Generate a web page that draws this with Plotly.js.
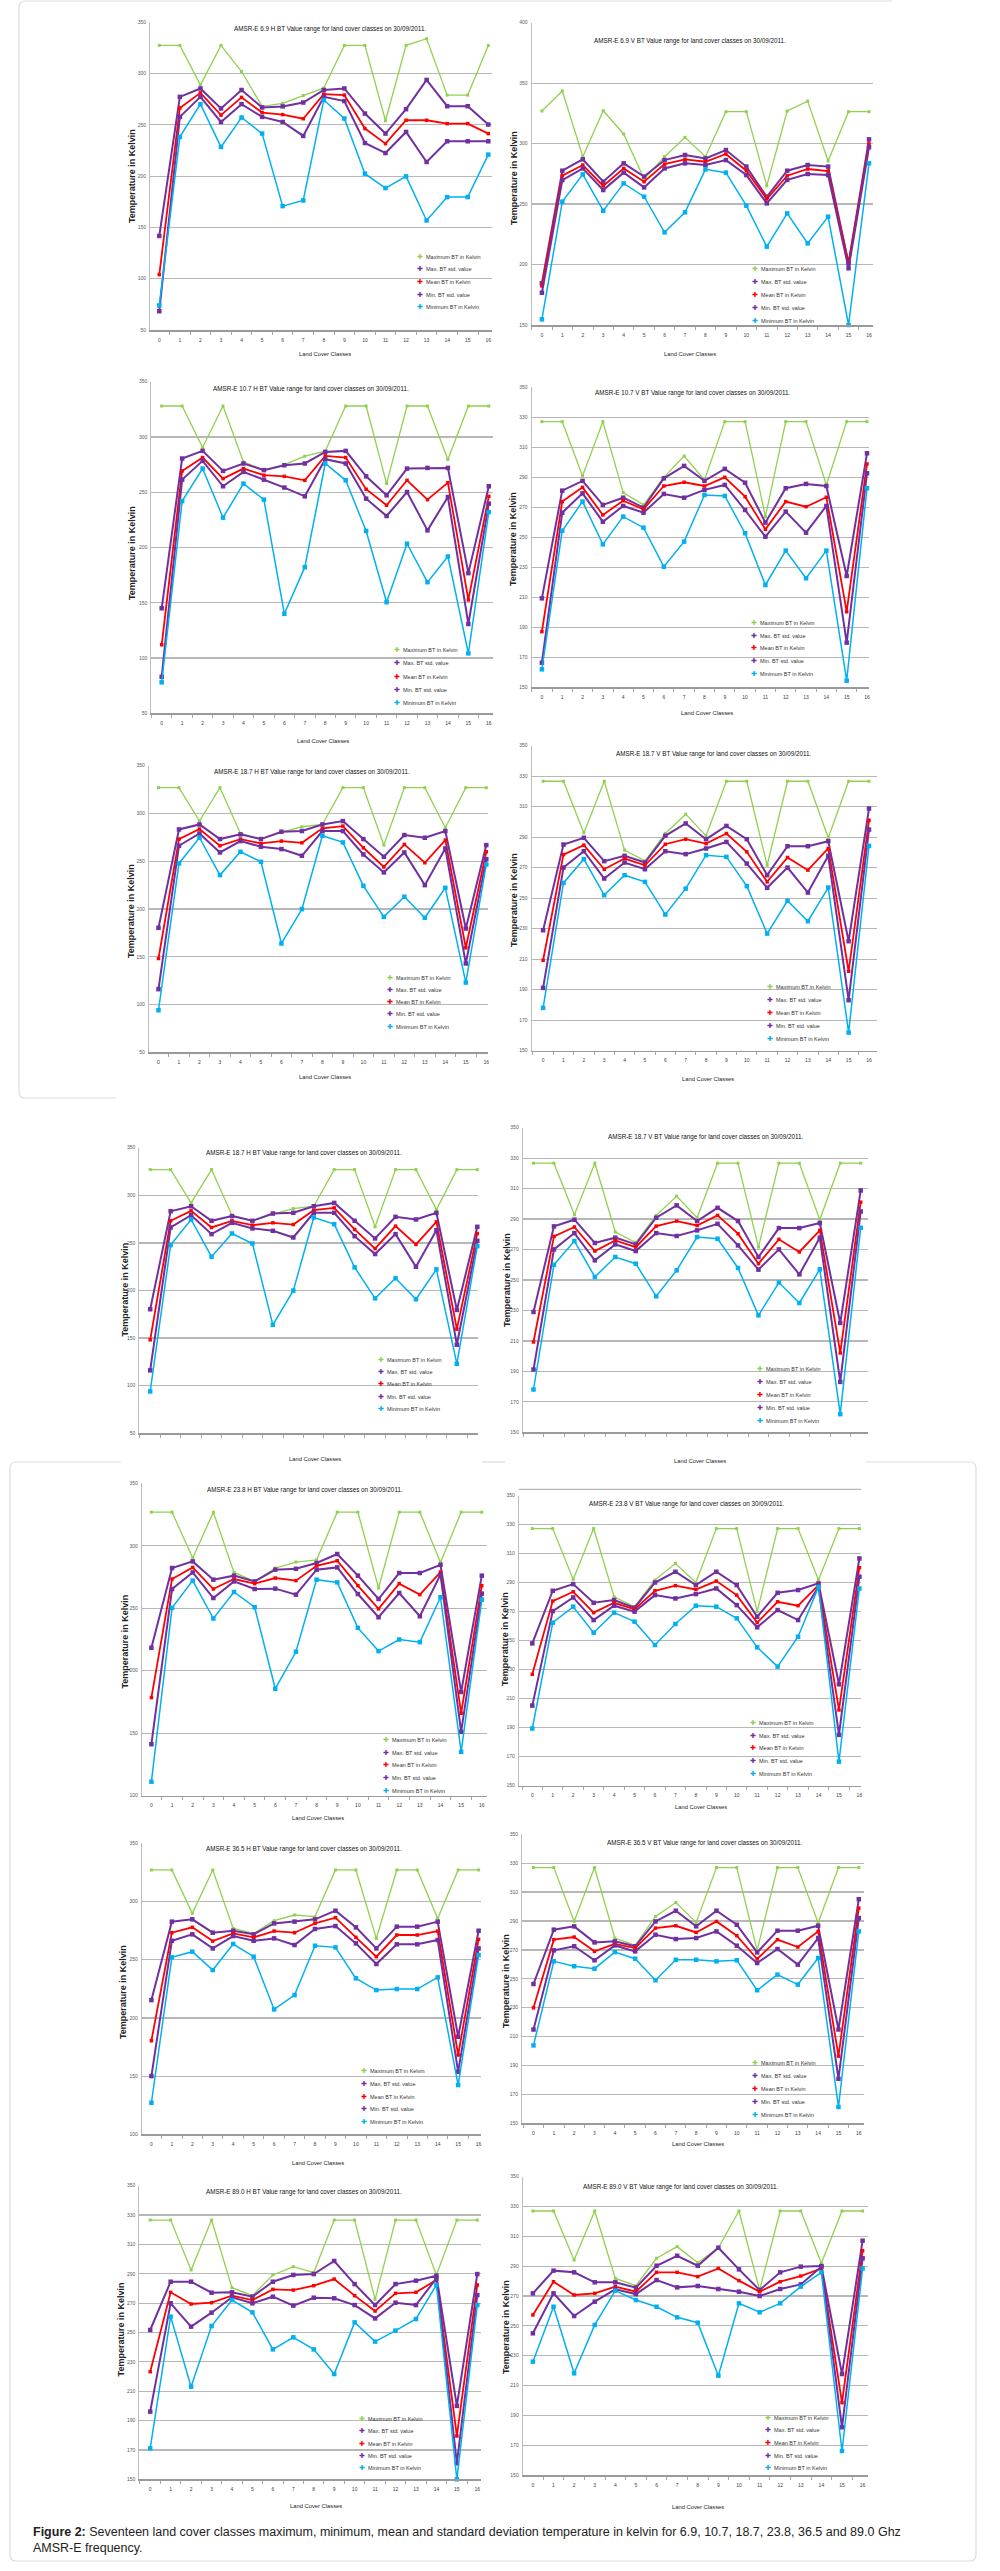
<!DOCTYPE html>
<html><head><meta charset="utf-8">
<script src="https://cdn.plot.ly/plotly-3.0.1.min.js"></script>
<style>html,body{margin:0;padding:0;background:#fff}#chart{width:1000px;height:2571px}</style>
</head><body><div id="chart"></div>
<script>
// ---------------- DATA ----------------
const classes = [0,1,2,3,4,5,6,7,8,9,10,11,12,13,14,15,16];
const seriesNames = ['Maximum BT in Kelvin','Max. BT std. value','Mean BT in Kelvin','Min. BT std. value','Minimum BT in Kelvin'];
const xAxisTitle = 'Land Cover Classes';
const yAxisTitle = 'Temperature in Kelvin';

// 6.9 GHz H
const h69_max    = [327.5,327.5,289,327.5,302,268,271,278.6,286,327.5,327.5,254,327.5,334,279,279,327.5];
const h69_maxstd = [141.7,277.3,285.5,266,284,267,268,271.8,284,285.5,261,241.5,265.3,293.8,268.2,268.2,250.3];
const h69_mean   = [104,266.5,281.2,259.5,276.8,262,260,256,280,279,246.4,231.7,254.5,254.5,251.2,251.2,241.5];
const h69_minstd = [68.3,257.8,277.3,252.8,270.2,257.8,252.8,239.2,277.3,273.2,232.3,222.5,243.1,213.8,234,234,234];
const h69_min    = [74,238.3,270.2,228.5,257.2,241.5,170.8,176.3,274.2,256.2,202.4,188.4,199.8,156.8,179.6,179.6,221];
// 6.9 GHz V
const v69_max    = [327,343.5,289.2,327.2,308,270.7,289.2,305.2,289.2,326.4,326.4,265.2,327,335.2,285.6,326.4,326.4];
const v69_maxstd = [184.5,277.6,287,268.5,283.7,272.7,286.4,290.6,287.8,294.7,281,256,277.6,282.3,281,201,303.5];
const v69_mean   = [182.3,273.5,282.3,265,279.5,268.5,283,287,285,291.4,277.6,254.2,273.5,279,277.3,201,299.7];
const v69_minstd = [176.7,269.9,279.5,261.6,276,263.8,279.5,283.7,282.3,286.4,274,250.6,270,274.9,274,196.9,297];
const v69_min    = [154.7,252,274.6,244.5,267.1,256.1,226.6,243.2,278.7,276,248.7,214.8,242.3,217.5,239.6,150,283.7];
// 10.7 GHz H
const h107_max    = [328,328,290.4,328,277.4,270,275,282.6,287.1,328,328,257.8,328,328,279.6,328,328];
const h107_maxstd = [145,280.5,287.4,269.3,276,270,274.4,276,286.5,287.4,264.4,247.2,271.4,272,272,176.8,255.4];
const h107_mean   = [112,269.3,281.4,262.3,271.4,265.4,264.4,260.8,282.9,281.4,252.7,238.2,260.8,243.3,258.7,152.6,246.3];
const h107_minstd = [83,261.4,278.4,255.4,268.4,261.4,254.2,246.3,279.9,276,244.2,228.5,250.2,215.5,245.7,130.8,239.7];
const h107_min    = [78,242,271.4,227,257.8,243.3,140,182.2,276,260.8,214.9,150.5,203.4,168.6,191.9,104.2,232.1];
// 10.7 GHz V
const v107_max    = [327.1,327.1,290.9,327.1,279.8,271.6,290,304.2,288.2,327.1,327.1,263.8,327.1,327.1,284.9,327.1,327.1];
const v107_maxstd = [209.3,281.1,287.6,271.6,276.4,269.8,289.3,297.6,287.6,295.6,286.4,259.8,282.7,285.6,284.2,224.2,306];
const v107_mean   = [187.1,273.8,283.3,264.9,274.4,268.7,284.2,286.7,284.2,290,277.1,255.3,273.8,270.4,276.7,200.4,298.9];
const v107_minstd = [166.4,266.4,279.3,260.4,270.9,266.4,278.9,276.4,281.6,284.9,268.2,250.4,267.1,253.1,270.9,179.8,292.7];
const v107_min    = [162,254.4,273.8,245.3,263.8,256.4,230.4,247.1,278.2,277.6,252.7,218.2,241.1,222.7,241.1,154.4,282.7];
// 18.7 GHz H
const h187_max    = [327,327,292,327,279.1,273.2,280.2,286.1,288.5,327,327,266.9,327,327,285,327,327];
const h187_maxstd = [180.3,283.3,288.5,273.2,278.1,273.2,280.9,281.6,288.5,292,273.2,254.7,277.4,274.6,281.6,179.6,266.9];
const h187_mean   = [148.2,273.2,283.7,266.2,273.2,268.6,271.1,269.3,284.4,286.8,264.1,244,267.6,248.4,272.1,159.4,259.9];
const h187_minstd = [116.1,266.2,279.1,259.2,271.1,265.2,262.7,255.7,281.6,281.6,257.1,238.3,259.2,225,263.4,143,252.2];
const h187_min    = [94,247.7,274.6,235.5,259.9,249.4,163.9,199.9,276.7,269.7,224.3,191.8,212.8,190.8,222.2,123,246.6];
// 18.7 GHz V
const v187_max    = [326.7,326.7,292.8,326.7,281.5,274.5,292.4,305.1,290.9,326.7,326.7,271.6,326.7,326.7,289.6,326.7,326.7];
const v187_maxstd = [229,285.2,289.6,274.3,277.8,273.4,290.9,299,288.7,297.4,288.7,265.1,284.1,284.1,287.4,221.8,308.8];
const v187_mean   = [209.3,278.6,284.8,269,276,271.6,285.4,288.7,285.8,292.4,280.4,260.7,276.7,268.4,282.6,202.1,301.1];
const v187_minstd = [191.2,270.1,280.8,262.9,273.4,269,280.8,278.9,282.6,286.9,272.7,256.8,270.1,253.7,277.8,183.1,295];
const v187_min    = [178.1,260,275.6,252,265.1,260.7,239.3,256.3,278.2,277.1,257.9,226.8,248.3,234.9,257,161.9,284.3];
// 23.8 GHz H
const h238_max    = [326.9,326.9,290.2,326.9,278.7,271.5,282.2,287,288.8,326.9,326.9,266.2,326.9,326.9,286.7,326.9,326.9];
const h238_maxstd = [218.4,282.2,287.5,272.9,276.1,271.5,280.9,281.6,286.2,293.4,276.1,257.4,278.2,278.2,284.8,183,276.1];
const h238_mean   = [178.5,273.4,282.7,265.4,273.4,269.7,274.2,272.1,284,288,268.1,249.5,269.7,260.9,279,166,268.1];
const h238_minstd = [141.2,265.4,278.7,258.2,271.5,265.4,265.7,260.9,280.9,282.7,261.4,242.8,262.2,243.6,276.9,151.1,261.7];
const h238_min    = [111.2,250.3,272.1,241.8,263,250.8,185.6,215.2,272.9,270.7,234.3,215.7,225,222.9,258.8,135.1,256.9];
// 23.8 GHz V
const v238_max    = [327.2,327.2,292.1,327.2,280.2,273.3,291.7,303.1,290,327.2,327.2,269.9,327.2,327.2,291.7,327.2,327.2];
const v238_maxstd = [248,284.3,288.9,276,277.9,272.6,290,297.4,288.2,297.4,288.2,266.4,282.9,284.8,289.4,219.8,306.6];
const v238_mean   = [226.7,277.2,283.6,269.2,276,271.5,284.3,287.8,285.2,291,281.3,262.3,276.7,274,288.2,202.1,300.2];
const v238_minstd = [205.1,270.3,279.7,264.1,274,269.9,281.3,279,282,285.9,274.4,259.1,271,264.1,287,184.9,294];
const v238_min    = [189.3,262.3,273.3,255.4,269.2,263,246.9,261.4,274,273.3,265.3,245.3,232,252.6,287,166.5,285.9];
// 36.5 GHz H
const h365_max    = [327.1,327.1,289.8,327.1,276.9,272.6,283.5,288.4,287,327.1,327.1,268.3,327.1,327.1,285.5,327.1,327.1];
const h365_maxstd = [215.3,282.7,284.7,273.2,274.9,271.8,281.2,282.7,284.7,292.1,277.8,259.7,278.4,278.4,282.7,183.8,274.9];
const h365_mean   = [180.4,273.2,277.8,266,272.6,269.2,274.6,273.2,281.2,286.1,269.2,252.6,271.2,271.2,274.6,168.1,267.5];
const h365_minstd = [150,266.3,271.8,259.7,270.3,266.3,268.3,262.6,276.4,278.9,264,246.3,263.2,263.2,266.9,153.7,259.7];
const h365_min    = [127.1,252,256.9,241.1,263.5,252.6,207.3,219.6,262,260.6,234,223.9,224.8,224.8,234.8,142.3,254];
// 36.5 GHz V
const v365_max    = [327,327,289.7,327,278.2,273.1,293.2,302.8,289,327,327,269.7,327,327,288.6,327,327];
const v365_maxstd = [246.4,284,286.3,275.2,275.9,272.5,289.7,297.1,286.3,297.1,287.4,268.3,283.3,283.3,286.7,214.9,305.1];
const v365_mean   = [229.9,277.1,278.9,269,274.1,271.3,285.1,286.7,282.1,289.7,279.8,263.7,277.1,272,282.8,196.5,298.9];
const v365_minstd = [214.9,269.7,272.5,262.8,273.1,269,280.5,277.5,278.2,282.8,272.9,260.9,270.6,259.8,278.2,180.8,292];
const v365_min    = [203.9,262.1,258.7,257,268.5,263.9,249,263.2,263.2,262.1,262.8,242.1,252.9,246,264.4,161.3,282.8];
// 89.0 GHz H
const h890_max    = [326.6,326.6,292.6,326.6,280.5,275.1,289.2,294.8,290.8,326.6,326.6,272.6,326.6,326.6,289.2,326.6,326.6];
const h890_maxstd = [251.7,284.6,284.6,277.1,277.4,274.4,284.6,289.2,289.8,298.7,283,268.7,283,285.3,288.7,200,289.8];
const h890_mean   = [223.3,277.4,269.4,270.3,275.1,272.1,279.4,278.9,281.9,286.4,275.1,264.6,276.7,277.4,285.8,179.5,282.4];
const h890_minstd = [196.1,269.9,254,263.5,274,269.9,274.4,268.3,273.7,273.3,268.7,259.6,270.3,268.7,286.9,160.9,275.5];
const h890_min    = [171.1,260.8,213.1,254.4,272.1,263.7,238.5,246.7,238.5,221.7,256.9,243.8,251.3,259.2,282.4,150,268.7];
// 89.0 GHz V
const v890_max    = [327,327,294.1,327,281.8,276.9,295.3,303.1,292.3,302.4,327,274,327,327,291.9,327,327];
const v890_maxstd = [271.8,287,285.9,279.2,279.2,275.6,290.3,297,290.3,302.4,287.9,274,285.9,289.7,290.1,217.7,307.1];
const v890_mean   = [257.3,279.6,270.7,271.8,276.3,272.9,285.9,285.9,283,288.5,280.3,272.9,279.6,283.4,288.5,198.5,300.4];
const v890_minstd = [245,271.8,256.6,266.2,274.5,271.3,280.7,275.8,276.7,274.7,272.9,270,274.7,277.8,289.7,182,295.3];
const v890_min    = [226,262.8,218.2,250.6,273.6,267.3,262.8,255.7,252.1,216.6,265.1,259.1,265.1,276.3,285.9,166.1,288.5];

const captionBold = 'Figure 2:';
const captionText = ' Seventeen land cover classes maximum, minimum, mean and standard deviation temperature in kelvin for 6.9, 10.7, 18.7, 23.8, 36.5 and 89.0 Ghz<br>AMSR-E frequency.';

// ---------------- LAYOUT (pixel positions on the 1000 x 2571 page) ----------------
const W = 1000, H = 2571;
const FONT = 'Liberation Sans, Arial, sans-serif';
const colors = ['#92D050', '#7030A0', '#FF0000', '#7030A0', '#00B0F0'];
const lineW  = [1.3, 2, 1.8, 2, 1.5];
const mSize  = [3, 4.5, 3.5, 4.5, 4.5];

function ttl(f){ return 'AMSR-E ' + f + ' BT Value range for land cover classes on 30/09/2011.'; }

const panels = [
 {f:'6.9 H',  d:[h69_max,h69_maxstd,h69_mean,h69_minstd,h69_min],      l:150,  r:492,  t:22.3,  b:330,   x0:159.3,x16:488.3,yr:[50,350], dy:50, tp:[330,29.3],   yt:[132,176],   xt:[324.6,354.3], lab:true,  leg:[419.8,256.7,12.65]},
 {f:'6.9 V',  d:[v69_max,v69_maxstd,v69_mean,v69_minstd,v69_min],      l:531.6,r:872.8,t:22.7,  b:325,   x0:541.9,x16:869,  yr:[150,400],dy:50, tp:[690,41.3],   yt:[514,178],   xt:[690,354.3],   lab:true,  leg:[755.3,269.3,12.85]},
 {f:'10.7 H', d:[h107_max,h107_maxstd,h107_mean,h107_minstd,h107_min], l:151.4,r:493.3,t:381.7, b:713.3, x0:161.7,x16:488.8,yr:[50,350], dy:50, tp:[311,389.3],  yt:[132,553],   xt:[322.7,741],   lab:true,  leg:[397.4,650,13.3]},
 {f:'10.7 V', d:[v107_max,v107_maxstd,v107_mean,v107_minstd,v107_min], l:531.6,r:869,  t:387.3, b:687.3, x0:541.9,x16:867,  yr:[150,350],dy:20, tp:[693,393.3],  yt:[513,539],   xt:[707.3,712.7], lab:true,  leg:[754,622.7,12.9]},
 {f:'18.7 H', d:[h187_max,h187_maxstd,h187_mean,h187_minstd,h187_min], l:148.9,r:487.5,t:765.7, b:1052.3,x0:158.5,x16:486.3,yr:[50,350], dy:50, tp:[312,771.7],  yt:[131,911],   xt:[324.6,1077.3],lab:true,  leg:[389.8,977.7,12.25]},
 {f:'18.7 V', d:[v187_max,v187_maxstd,v187_mean,v187_minstd,v187_min], l:531.6,r:877.3,t:745.7, b:1050.7,x0:543.1,x16:869,  yr:[150,350],dy:20, tp:[714,754.3],  yt:[514,900],   xt:[708,1079.3],  lab:true,  leg:[770,987.3,12.9]},
 {f:'18.7 H', d:[h187_max,h187_maxstd,h187_mean,h187_minstd,h187_min], l:139.3,r:478,  t:1147.7,b:1433.3,x0:150.2,x16:477.3,yr:[50,350], dy:50, tp:[303.5,1153.3],yt:[124.6,1290],xt:[315,1459.3],  lab:false, leg:[380.8,1360,12.2]},
 {f:'18.7 V', d:[v187_max,v187_maxstd,v187_mean,v187_minstd,v187_min], l:522.7,r:867.7,t:1127.7,b:1432.3,x0:533.5,x16:860.7,yr:[150,350],dy:20, tp:[706,1136.7], yt:[507,1280],  xt:[699.7,1461.3],lab:false, leg:[760.4,1369.3,12.9]},
 {f:'23.8 H', d:[h238_max,h238_maxstd,h238_mean,h238_minstd,h238_min], l:141.9,r:486.9,t:1483.3,b:1795.7,x0:151.4,x16:481.8,yr:[100,350],dy:50, tp:[305.4,1490], yt:[124.6,1642],xt:[318.2,1818.3],lab:true,  leg:[386,1740,12.7]},
 {f:'23.8 V', d:[v238_max,v238_maxstd,v238_mean,v238_minstd,v238_min], l:518.8,r:861.3,t:1495.5,b:1785.5,x0:532.3,x16:859.4,yr:[150,350],dy:20, tp:[687,1504],   yt:[505,1639],  xt:[701,1806.7],  lab:true,  leg:[752.7,1722.7,12.9], extraTop:1489.3},
 {f:'36.5 H', d:[h365_max,h365_maxstd,h365_mean,h365_minstd,h365_min], l:141.9,r:480.5,t:1843.3,b:2134.3,x0:151.4,x16:478.6,yr:[100,350],dy:50, tp:[303.5,1849.3],yt:[123,1992],  xt:[318.2,2162.7],lab:true,  leg:[364.2,2071,12.8]},
 {f:'36.5 V', d:[v365_max,v365_maxstd,v365_mean,v365_minstd,v365_min], l:522,  r:863.9,t:1834.3,b:2123.3,x0:533.5,x16:858.8,yr:[150,350],dy:20, tp:[705,1842.7], yt:[506,1981],  xt:[697.8,2144.3],lab:true,  leg:[755.3,2063.3,12.9]},
 {f:'89.0 H', d:[h890_max,h890_maxstd,h890_mean,h890_minstd,h890_min], l:139.3,r:480.5,t:2185.7,b:2479.3,x0:150.2,x16:477.3,yr:[150,350],dy:20, tp:[303.5,2192.3],yt:[121.4,2329],xt:[316.3,2505.7],lab:true,  leg:[362.3,2419,12.3]},
 {f:'89.0 V', d:[v890_max,v890_maxstd,v890_mean,v890_minstd,v890_min], l:522.7,r:867.7,t:2176.7,b:2475,  x0:532.9,x16:862.6,yr:[150,350],dy:20, tp:[680.5,2186.7],yt:[506,2327],  xt:[698.4,2506.7],lab:true,  leg:[768,2417.7,12.65]}
];

const px = x => x / W;
const py = y => 1 - y / H;

const traces = [];
const layout = {
  width: W, height: H,
  margin: {l:0, r:0, t:0, b:0, pad:0},
  paper_bgcolor: '#ffffff', plot_bgcolor: 'rgba(0,0,0,0)',
  showlegend: false,
  font: {family: FONT, color: '#222'},
  annotations: [], shapes: []
};

panels.forEach((p, i) => {
  const k = i + 1;
  const xa = k === 1 ? 'x' : 'x' + k;
  const ya = k === 1 ? 'y' : 'y' + k;
  const dx = (p.x16 - p.x0) / 16;
  layout[k === 1 ? 'xaxis' : 'xaxis' + k] = {
    domain: [px(p.l), px(p.r)],
    range: [(p.l - p.x0) / dx, (p.r - p.x0) / dx],
    anchor: ya,
    tickmode: 'array', tickvals: classes, ticktext: classes.map(String),
    showticklabels: p.lab,
    ticks: '',
    minor: {ticks: 'outside', ticklen: 3, tickwidth: 1, tickcolor: '#a6a6a6', tickmode: 'array', tickvals: classes.map(c => c - 0.5).concat([16.5])},
    ticklabelstandoff: 4,
    tickfont: {family: FONT, size: 5, color: '#404040'},
    showgrid: false, zeroline: false,
    showline: true, linecolor: '#9a9a9a', linewidth: 1.5,
    fixedrange: true
  };
  layout[k === 1 ? 'yaxis' : 'yaxis' + k] = {
    domain: [py(p.b), py(p.t)],
    range: p.yr,
    anchor: xa,
    tickmode: 'linear', tick0: p.yr[0], dtick: p.dy,
    ticks: '',
    tickfont: {family: FONT, size: 5, color: '#595959'},
    ticklabelstandoff: 2,
    showgrid: true, gridcolor: '#b7b7b7', gridwidth: 1.2,
    zeroline: false,
    showline: true, linecolor: '#bdbdbd', linewidth: 1,
    fixedrange: true
  };
  p.d.forEach((vals, s) => {
    traces.push({
      type: 'scatter', mode: 'lines+markers',
      x: classes, y: vals, xaxis: xa, yaxis: ya,
      name: seriesNames[s],
      line: {color: colors[s], width: lineW[s]},
      marker: {symbol: 'square', size: mSize[s], color: colors[s]},
      cliponaxis: false,
      hoverinfo: 'skip'
    });
  });
  // chart title
  layout.annotations.push({xref:'paper', yref:'paper', x:px(p.tp[0]), y:py(p.tp[1]), xanchor:'center', yanchor:'middle',
    text: ttl(p.f), showarrow:false, font:{family:FONT, size:6.3, color:'#111'}});
  // y title
  layout.annotations.push({xref:'paper', yref:'paper', x:px(p.yt[0]), y:py(p.yt[1]), xanchor:'center', yanchor:'middle',
    text: '<b>' + yAxisTitle + '</b>', textangle:-90, showarrow:false, font:{family:FONT, size:9, color:'#222'}});
  // x title
  layout.annotations.push({xref:'paper', yref:'paper', x:px(p.xt[0]), y:py(p.xt[1]), xanchor:'center', yanchor:'middle',
    text: xAxisTitle, showarrow:false, font:{family:FONT, size:5.8, color:'#222'}});
  // legend
  seriesNames.forEach((nm, s) => {
    const yy = p.leg[1] + s * p.leg[2];
    layout.annotations.push({xref:'paper', yref:'paper', x:px(p.leg[0]), y:py(yy), xanchor:'center', yanchor:'middle',
      text:'✚', showarrow:false, font:{family:'DejaVu Sans', size:7, color:colors[s]}});
    layout.annotations.push({xref:'paper', yref:'paper', x:px(p.leg[0] + 4), y:py(yy), xanchor:'left', yanchor:'middle',
      text:nm, showarrow:false, font:{family:FONT, size:5.5, color:'#333'}});
  });
  if (p.extraTop) {
    layout.shapes.push({type:'line', xref:'paper', yref:'paper', x0:px(p.l), x1:px(p.r), y0:py(p.extraTop), y1:py(p.extraTop),
      line:{color:'#b7b7b7', width:1.2}});
  }
});

// surrounding boxes (decorative page frames)
function pathOf(pts){
  return pts.map(s => s[0] + ' ' + s.slice(1).map((v, j) => (j % 2 === 0 ? px(v) : py(v)).toFixed(6)).join(',')).join(' ');
}
function box(cmds){ return {type:'path', xref:'paper', yref:'paper', path: pathOf(cmds), line:{color:'#dddddd', width:1.2}, layer:'below'}; }
layout.shapes.push(box([['M',116,1098],['L',25,1098],['Q',19,1098,19,1092],['L',19,7],['Q',19,1,25,1],['L',892,1]]));
layout.shapes.push(box([['M',121,1462],['L',16,1462],['Q',10,1462,10,1468],['L',10,2555],['Q',10,2561,16,2561],['L',970,2561],['Q',976,2561,976,2555],['L',976,1468],['Q',976,1462,970,1462],['L',866,1462]]));
layout.shapes.push(box([['M',482,1462],['L',505,1462]]));

// caption
layout.annotations.push({xref:'paper', yref:'paper', x:px(31), y:py(2523), xanchor:'left', yanchor:'top', align:'left',
  text:'<b>' + captionBold + '</b>' + captionText, showarrow:false, font:{family:FONT, size:12.5, color:'#222'}});

Plotly.newPlot('chart', traces, layout, {staticPlot:true, displayModeBar:false});
</script>
</body></html>
